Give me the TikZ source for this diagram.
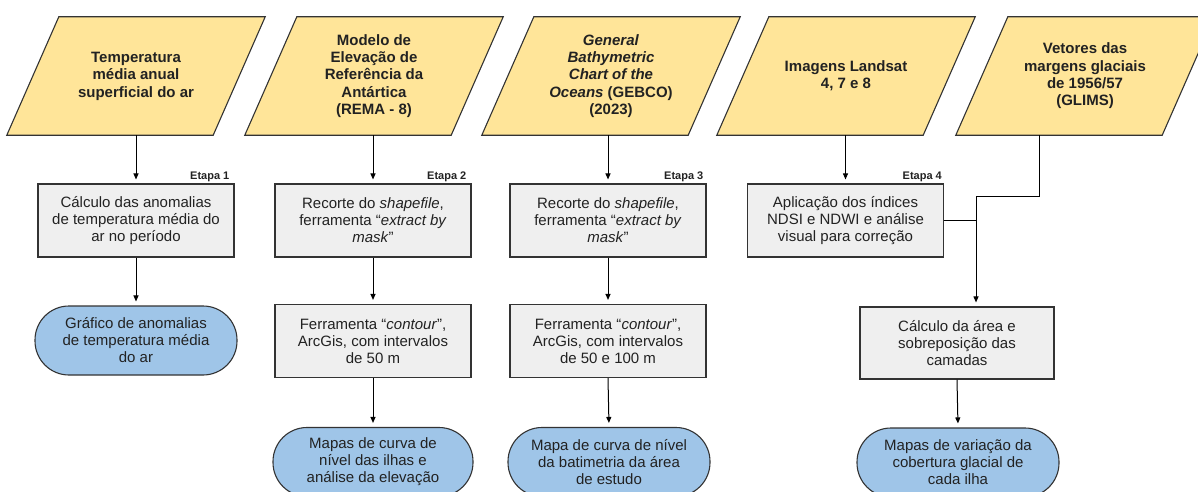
\documentclass[tikz,border=0pt]{standalone}
\usepackage{fontspec}
\setmainfont{Liberation Sans}
\usetikzlibrary{arrows.meta,backgrounds,calc}
\definecolor{pyellow}{HTML}{FFE599}
\definecolor{pgrey}{HTML}{EFEFEF}
\definecolor{pblue}{HTML}{9FC5E8}
\definecolor{pborder}{HTML}{333333}
\definecolor{ptext}{HTML}{222222}
\tikzset{
 basenode/.style={align=center, inner sep=0pt, text=ptext},
 paranode/.style={basenode, minimum width=258pt, minimum height=118pt, font=\fontsize{15}{17.4}\selectfont\bfseries},
 parashape/.style={fill=pyellow, draw=pborder, line width=1.1pt, line join=miter},
 procbox/.style={basenode, draw=pborder, fill=pgrey, line width=1.1pt, minimum width=196pt, minimum height=73pt, font=\fontsize{15}{17}\selectfont},
 termbox/.style={basenode, draw=pborder, fill=pblue, line width=1.1pt, minimum width=202pt, minimum height=69pt, rounded corners=34pt, font=\fontsize{15}{17}\selectfont},
 etapa/.style={font=\fontsize{11}{13}\selectfont\bfseries, inner sep=0pt, anchor=base east, text=ptext},
 conn/.style={line width=1pt, draw=black},
 arr/.style={conn, -{Triangle[length=6pt,width=5pt]}, shorten >=4pt},
}
\begin{document}
\begin{tikzpicture}[x=1pt,y=-1pt]
\useasboundingbox (0,0) rectangle (1198,492);
\clip (0,0) rectangle (1198,492);
% input parallelograms
\node[paranode] (p1) at (136,76) {Temperatura\\média anual\\superficial do ar};
\node[paranode] (p2) at (374,76) {Modelo de\\Elevação de\\Referência da\\Antártica\\(REMA - 8)};
\node[paranode] (p3) at (611,76) {\textit{General}\\\textit{Bathymetric}\\\textit{Chart of the}\\\textit{Oceans} (GEBCO)\\(2023)};
\node[paranode] (p4) at (846,76) {Imagens Landsat\\4, 7 e 8};
\node[paranode] (p5) at (1085,76) {Vetores das\\margens glaciais\\de 1956/57\\(GLIMS)};
\begin{scope}[on background layer]
\clip (0,0) rectangle (1198,492);
\foreach \n in {p1,p2,p3,p4,p5}
  \draw[parashape] (\n.south west) -- ([xshift=-52pt]\n.south east) -- (\n.north east) -- ([xshift=52pt]\n.north west) -- cycle;
\end{scope}
% process boxes
\node[procbox] (b1) at (136,220.5) {Cálculo das anomalias\\de temperatura média do\\ar no período};
\node[procbox] (b2) at (373,220.5) {Recorte do \textit{shapefile},\\ferramenta “\textit{extract by}\\\textit{mask}”};
\node[procbox] (b3) at (608,220.5) {Recorte do \textit{shapefile},\\ferramenta “\textit{extract by}\\\textit{mask}”};
\node[procbox] (b4) at (845.5,220.5) {Aplicação dos índices\\NDSI e NDWI e análise\\visual para correção};
\node[procbox] (c2) at (373,341) {Ferramenta “\textit{contour}”,\\ArcGis, com intervalos\\de 50 m};
\node[procbox] (c3) at (608,341) {Ferramenta “\textit{contour}”,\\ArcGis, com intervalos\\de 50 e 100 m};
\node[procbox, minimum width=194pt, minimum height=72pt] (b5) at (957,343) {Cálculo da área e\\sobreposição das\\camadas};
% terminals
\node[termbox] (t1) at (136,340.5) {Gráfico de anomalias\\de temperatura média\\do ar};
\node[termbox, minimum width=200pt] (t2) at (373,462) {Mapas de curva de\\nível das ilhas e\\análise da elevação};
\node[termbox] (t3) at (609,462) {Mapa de curva de nível\\da batimetria da área\\de estudo};
\node[termbox] (t5) at (958,462.5) {Mapas de variação da\\cobertura glacial de\\cada ilha};
% etapa labels
\node[etapa] (e1) at ([xshift=-5pt,yshift=4pt]b1.north east) {Etapa 1};
\node[etapa] (e2) at ([xshift=-5pt,yshift=4pt]b2.north east) {Etapa 2};
\node[etapa] (e3) at ([xshift=-3pt,yshift=4pt]b3.north east) {Etapa 3};
\node[etapa] (e4) at ([xshift=-2pt,yshift=4pt]b4.north east) {Etapa 4};
% connectors
\draw[arr] (p1.south -| b1) -- (b1.north);
\draw[arr] (b1.south) -- (t1.north);
\draw[arr] (p2.south -| b2) -- (b2.north);
\draw[arr] (b2.south) -- (c2.north);
\draw[arr] (c2.south) -- (t2.north);
\draw[arr] (p3.south -| b3) -- (b3.north);
\draw[arr] (b3.south) -- (c3.north);
\draw[arr] (c3.south) -- (t3.north);
\draw[arr] (p4.south -| b4) -- (b4.north);
\coordinate (j) at (976,196);
\coordinate (p5out) at ([xshift=-46pt]p5.south);
\draw[conn] (p5out) |- (j);
\draw[conn] (b4.east) -- (b4.east -| j);
\draw[arr] (j) -- (j |- b5.north);
\draw[arr] (b5.south) -- (t5.north);
\end{tikzpicture}
\end{document}
